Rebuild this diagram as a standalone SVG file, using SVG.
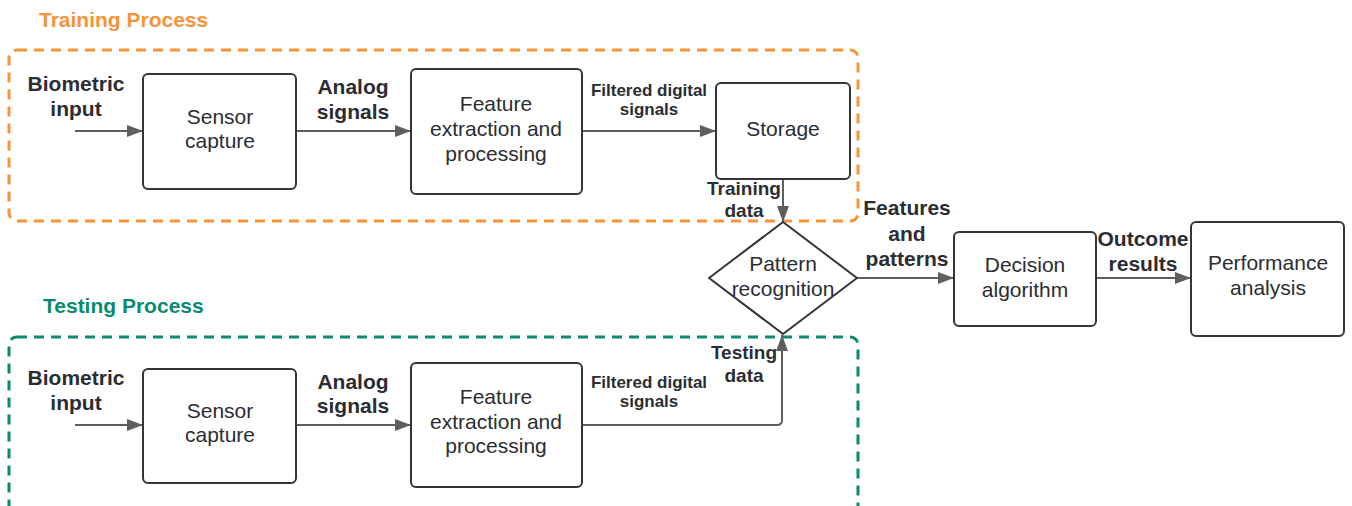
<svg xmlns="http://www.w3.org/2000/svg" width="1352" height="506" viewBox="0 0 1352 506">
  <style>
    .box { fill: #ffffff; stroke: #33353b; stroke-width: 2; }
    .frame { fill: none; stroke-width: 3; stroke-dasharray: 10 7; }
    .edge { fill: none; stroke: #5e5e5e; stroke-width: 2; }
    .t { font-family: "Liberation Sans", Arial, sans-serif; fill: #2b2d33; text-anchor: middle; }
    .node { font-size: 21px; }
    .lbl { font-size: 21px; font-weight: bold; }
    .sm { font-size: 17px; font-weight: bold; }
    .md { font-size: 19px; font-weight: bold; }
    .title { font-family: "Liberation Sans", Arial, sans-serif; font-size: 21px; font-weight: bold; }
  </style>
  <defs>
    <marker id="arrow" viewBox="0 0 16 12" refX="16" refY="6" markerWidth="16" markerHeight="12" markerUnits="userSpaceOnUse" orient="auto">
      <path d="M0,0 L16,6 L0,12 Z" fill="#5e5e5e"/>
    </marker>
  </defs>
  <rect width="1352" height="506" fill="#ffffff"/>

  <!-- process frames -->
  <g id="training-frame">
    <rect class="frame" x="9" y="50" width="849" height="171" rx="8" stroke="#f7943a"/>
    <text class="title" x="39" y="27" fill="#f7943a">Training Process</text>
  </g>
  <g id="testing-frame">
    <rect class="frame" x="9" y="337" width="849" height="190" rx="8" stroke="#0a8a70"/>
    <text class="title" x="43" y="313" fill="#0a8a70">Testing Process</text>
  </g>

  <!-- connectors -->
  <g id="connectors">
    <path class="edge" d="M75,131 L143,131" marker-end="url(#arrow)"/>
    <path class="edge" d="M296,131 L411,131" marker-end="url(#arrow)"/>
    <path class="edge" d="M582,131 L716,131" marker-end="url(#arrow)"/>
    <path class="edge" d="M783,179 L783,222" marker-end="url(#arrow)"/>
    <path class="edge" d="M75,425 L143,425" marker-end="url(#arrow)"/>
    <path class="edge" d="M296,425 L411,425" marker-end="url(#arrow)"/>
    <path class="edge" d="M582,425 L777,425 Q782,425 782,420 L782,335" marker-end="url(#arrow)"/>
    <path class="edge" d="M857,278 L954,278" marker-end="url(#arrow)"/>
    <path class="edge" d="M1096,278 L1191,278" marker-end="url(#arrow)"/>

    <text class="t lbl" x="76" y="91">Biometric</text>
    <text class="t lbl" x="76" y="116">input</text>
    <text class="t lbl" x="353" y="94">Analog</text>
    <text class="t lbl" x="353" y="119">signals</text>
    <text class="t sm" x="649" y="96">Filtered digital</text>
    <text class="t sm" x="649" y="115">signals</text>
    <text class="t md" x="744" y="195">Training</text>
    <text class="t md" x="744" y="217">data</text>

    <text class="t lbl" x="76" y="385">Biometric</text>
    <text class="t lbl" x="76" y="410">input</text>
    <text class="t lbl" x="353" y="389">Analog</text>
    <text class="t lbl" x="353" y="413">signals</text>
    <text class="t sm" x="649" y="388">Filtered digital</text>
    <text class="t sm" x="649" y="407">signals</text>
    <text class="t md" x="744" y="359">Testing</text>
    <text class="t md" x="744" y="382">data</text>

    <text class="t lbl" x="907" y="215">Features</text>
    <text class="t lbl" x="907" y="241">and</text>
    <text class="t lbl" x="907" y="266">patterns</text>
    <text class="t lbl" x="1143" y="246">Outcome</text>
    <text class="t lbl" x="1143" y="271">results</text>
  </g>

  <!-- training nodes -->
  <g id="train-sensor">
    <rect class="box" x="143" y="74" width="153" height="115" rx="5"/>
    <text class="t node" x="220" y="124">Sensor</text>
    <text class="t node" x="220" y="148">capture</text>
  </g>
  <g id="train-feature">
    <rect class="box" x="411" y="69" width="171" height="125" rx="5"/>
    <text class="t node" x="496" y="111">Feature</text>
    <text class="t node" x="496" y="136">extraction and</text>
    <text class="t node" x="496" y="161">processing</text>
  </g>
  <g id="storage">
    <rect class="box" x="716" y="83" width="134" height="96" rx="5"/>
    <text class="t node" x="783" y="136">Storage</text>
  </g>

  <!-- shared nodes -->
  <g id="pattern-recognition">
    <path class="box" d="M783,222 L857,278 L783,334 L709,278 Z" stroke-linejoin="round"/>
    <text class="t node" x="783" y="271">Pattern</text>
    <text class="t node" x="783" y="296">recognition</text>
  </g>
  <g id="decision">
    <rect class="box" x="954" y="232" width="142" height="94" rx="5"/>
    <text class="t node" x="1025" y="272">Decision</text>
    <text class="t node" x="1025" y="297">algorithm</text>
  </g>
  <g id="performance">
    <rect class="box" x="1191" y="222" width="153" height="114" rx="5"/>
    <text class="t node" x="1268" y="270">Performance</text>
    <text class="t node" x="1268" y="295">analysis</text>
  </g>

  <!-- testing nodes -->
  <g id="test-sensor">
    <rect class="box" x="143" y="369" width="153" height="114" rx="5"/>
    <text class="t node" x="220" y="418">Sensor</text>
    <text class="t node" x="220" y="442">capture</text>
  </g>
  <g id="test-feature">
    <rect class="box" x="411" y="363" width="171" height="124" rx="5"/>
    <text class="t node" x="496" y="404">Feature</text>
    <text class="t node" x="496" y="429">extraction and</text>
    <text class="t node" x="496" y="453">processing</text>
  </g>
</svg>
